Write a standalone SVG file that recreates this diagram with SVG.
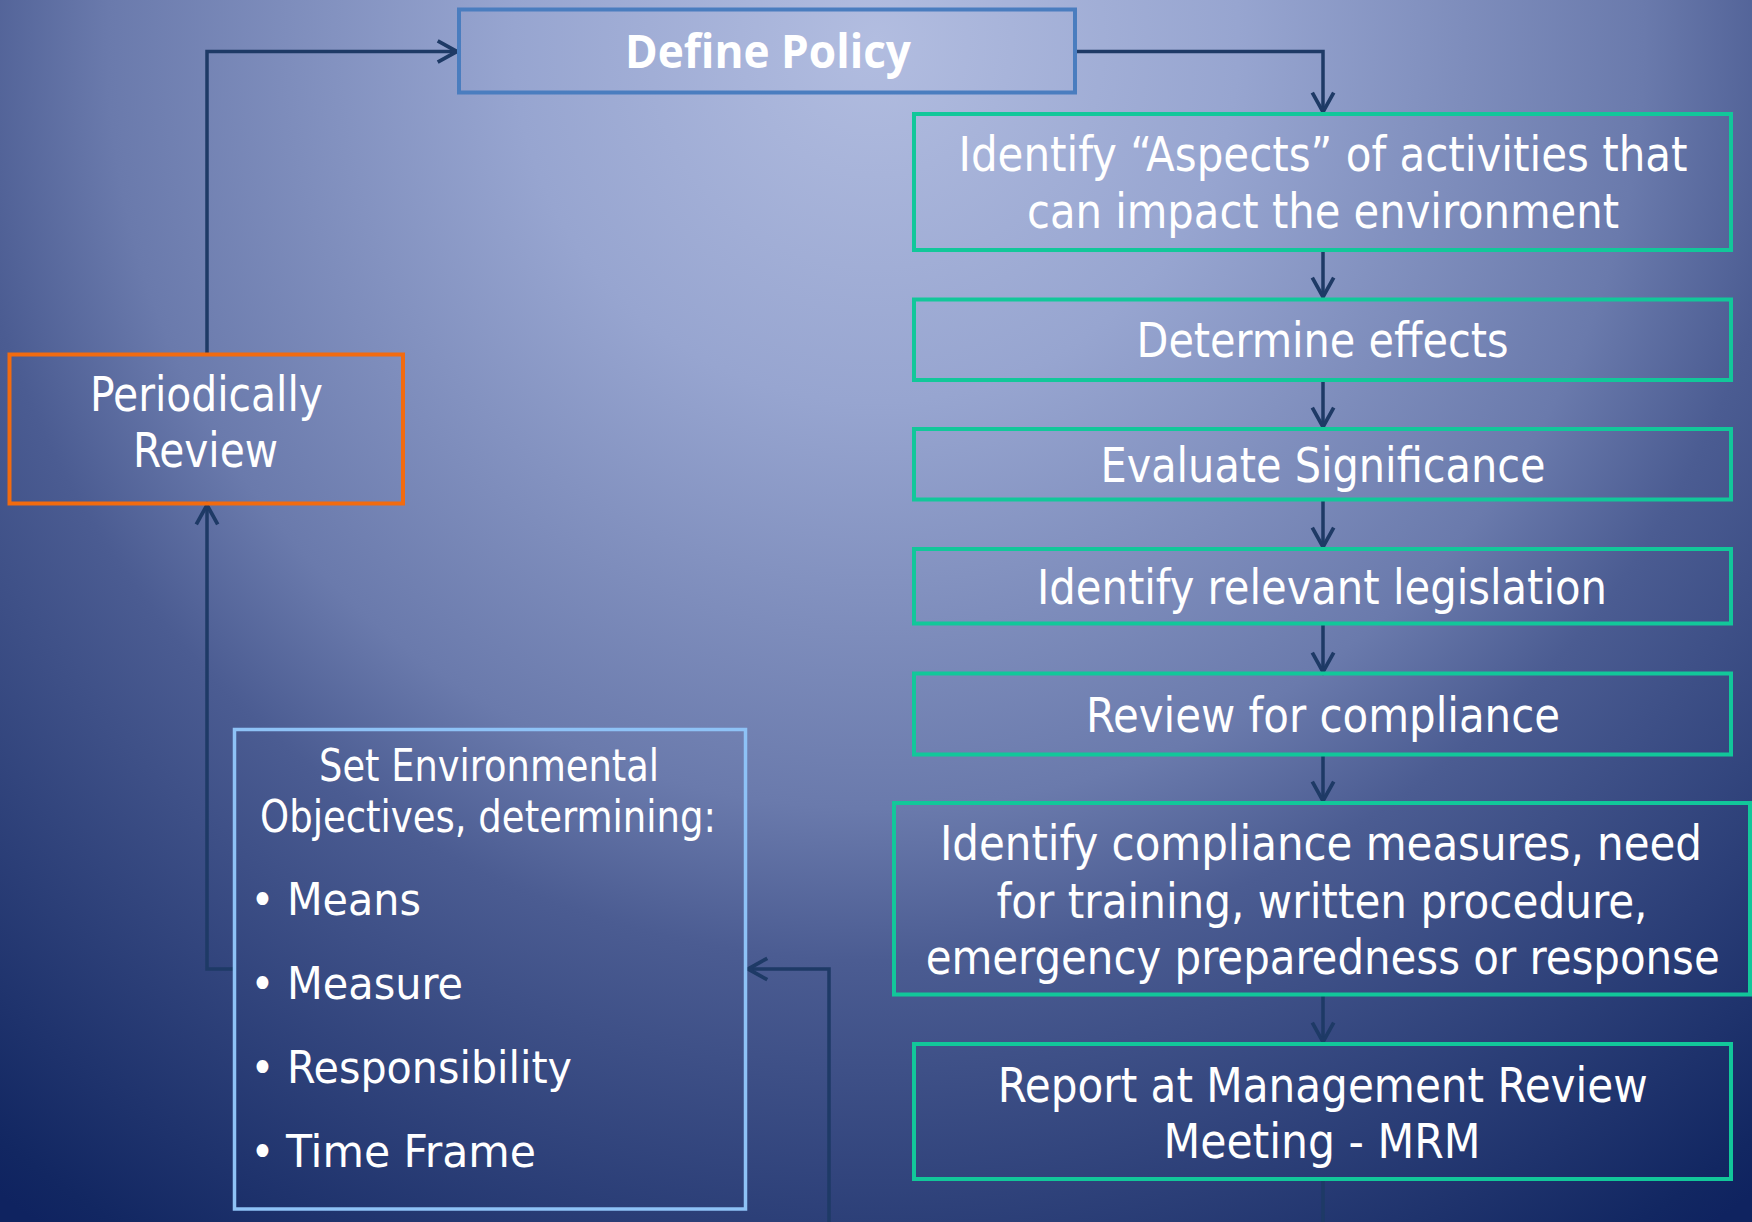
<svg xmlns="http://www.w3.org/2000/svg" width="1752" height="1222" viewBox="0 0 1752 1222">
  <defs>
    <radialGradient id="bg" gradientUnits="userSpaceOnUse" cx="876" cy="40" r="1450">
      <stop offset="0" stop-color="#B2BDE0"/>
      <stop offset="0.25" stop-color="#97A5D0"/>
      <stop offset="0.53" stop-color="#6A7AAC"/>
      <stop offset="0.635" stop-color="#4B5C92"/>
      <stop offset="0.97" stop-color="#122762"/>
      <stop offset="1" stop-color="#0F2360"/>
    </radialGradient>
    <marker id="arr" markerUnits="userSpaceOnUse" markerWidth="30" markerHeight="30" viewBox="-22 -14 26 28" refX="0" refY="0" orient="auto" overflow="visible">
      <path d="M-18,-10 L0,0 L-18,10" fill="none" stroke="#1E3A66" stroke-width="3.5" stroke-linejoin="miter"/>
    </marker>
    <style>
      .t { font-family: "DejaVu Sans Condensed", "DejaVu Sans", "Liberation Sans Narrow", sans-serif; font-stretch: condensed; fill: #FFFFFF; font-size: 48px; text-anchor: middle; }
      .s { font-family: "DejaVu Sans Condensed", "DejaVu Sans", "Liberation Sans Narrow", sans-serif; font-stretch: condensed; fill: #FFFFFF; font-size: 45px; }
      .b { font-family: "Open Sans", "Liberation Sans", sans-serif; font-weight: 700; fill: #FFFFFF; font-size: 46px; text-anchor: middle; }
      .g { fill: none; stroke: #12C79A; stroke-width: 4; }
      .c { fill: none; stroke: #1E3A66; stroke-width: 3.5; }
    </style>
  </defs>
  <rect x="0" y="0" width="1752" height="1222" fill="url(#bg)"/>

  <g id="connectors">
    <path class="c" d="M1075,51.5 H1323 V112" marker-end="url(#arr)"/>
    <path class="c" d="M1323,250 V297" marker-end="url(#arr)"/>
    <path class="c" d="M1323,380 V427" marker-end="url(#arr)"/>
    <path class="c" d="M1323,500 V547" marker-end="url(#arr)"/>
    <path class="c" d="M1323,624 V672" marker-end="url(#arr)"/>
    <path class="c" d="M1323,755 V801" marker-end="url(#arr)"/>
    <path class="c" d="M1323,995 V1042" marker-end="url(#arr)"/>
    <path class="c" d="M1323,1179 V1222"/>
    <path class="c" d="M207,354 V51.5 H457" marker-end="url(#arr)"/>
    <path class="c" d="M234,969 H207 V505" marker-end="url(#arr)"/>
    <path class="c" d="M829,1222 V969 H748" marker-end="url(#arr)"/>
  </g>

  <g id="define-policy">
    <rect x="459" y="9.5" width="616" height="83" fill="none" stroke="#4A7DBF" stroke-width="4"/>
    <text class="b" x="768" y="68" textLength="286" lengthAdjust="spacingAndGlyphs">Define Policy</text>
  </g>

  <g id="identify-aspects">
    <rect class="g" x="914" y="114" width="817" height="136"/>
    <text class="t" x="1323" y="170.7" textLength="729" lengthAdjust="spacingAndGlyphs">Identify “Aspects” of activities that</text>
    <text class="t" x="1323" y="227.7" textLength="592" lengthAdjust="spacingAndGlyphs">can impact the environment</text>
  </g>

  <g id="determine-effects">
    <rect class="g" x="914" y="299.5" width="817" height="80.5"/>
    <text class="t" x="1322.5" y="356.7" textLength="372" lengthAdjust="spacingAndGlyphs">Determine effects</text>
  </g>

  <g id="evaluate-significance">
    <rect class="g" x="914" y="429" width="817" height="70.5"/>
    <text class="t" x="1323" y="481.5" textLength="445" lengthAdjust="spacingAndGlyphs">Evaluate Significance</text>
  </g>

  <g id="identify-legislation">
    <rect class="g" x="914" y="549" width="817" height="74.5"/>
    <text class="t" x="1322" y="603.5" textLength="570" lengthAdjust="spacingAndGlyphs">Identify relevant legislation</text>
  </g>

  <g id="review-compliance">
    <rect class="g" x="914" y="673.5" width="817" height="81"/>
    <text class="t" x="1323" y="731.5" textLength="474" lengthAdjust="spacingAndGlyphs">Review for compliance</text>
  </g>

  <g id="compliance-measures">
    <rect class="g" x="894" y="803" width="856" height="191.5"/>
    <text class="t" x="1321" y="860" textLength="762" lengthAdjust="spacingAndGlyphs">Identify compliance measures, need</text>
    <text class="t" x="1322" y="918.3" textLength="651" lengthAdjust="spacingAndGlyphs">for training, written procedure,</text>
    <text class="t" x="1322.7" y="974.3" textLength="794" lengthAdjust="spacingAndGlyphs">emergency preparedness or response</text>
  </g>

  <g id="report-mrm">
    <rect class="g" x="914" y="1044" width="817" height="135"/>
    <text class="t" x="1322.7" y="1101.7" textLength="650" lengthAdjust="spacingAndGlyphs">Report at Management Review</text>
    <text class="t" x="1322" y="1158.3" textLength="317" lengthAdjust="spacingAndGlyphs">Meeting - MRM</text>
  </g>

  <g id="periodically-review">
    <rect x="9.5" y="354.5" width="393.5" height="149" fill="none" stroke="#F26B0F" stroke-width="4"/>
    <text class="t" x="206.5" y="410.7" textLength="233" lengthAdjust="spacingAndGlyphs">Periodically</text>
    <text class="t" x="205.5" y="467" textLength="145" lengthAdjust="spacingAndGlyphs">Review</text>
  </g>

  <g id="set-objectives">
    <rect x="234.5" y="729.5" width="511" height="479.5" fill="none" stroke="#8EC2F6" stroke-width="3.5"/>
    <text class="s" x="489" y="781" text-anchor="middle" textLength="340" lengthAdjust="spacingAndGlyphs">Set Environmental</text>
    <text class="s" x="488" y="831.7" text-anchor="middle" textLength="456" lengthAdjust="spacingAndGlyphs">Objectives, determining:</text>
    <text class="s" x="262.5" y="915" text-anchor="middle">•</text>
    <text class="s" x="287" y="915" textLength="134" lengthAdjust="spacingAndGlyphs">Means</text>
    <text class="s" x="262.5" y="999.3" text-anchor="middle">•</text>
    <text class="s" x="287" y="999.3" textLength="176" lengthAdjust="spacingAndGlyphs">Measure</text>
    <text class="s" x="262.5" y="1082.7" text-anchor="middle">•</text>
    <text class="s" x="287" y="1082.7" textLength="285" lengthAdjust="spacingAndGlyphs">Responsibility</text>
    <text class="s" x="262.5" y="1166.7" text-anchor="middle">•</text>
    <text class="s" x="286" y="1166.7" textLength="250" lengthAdjust="spacingAndGlyphs">Time Frame</text>
  </g>
</svg>
